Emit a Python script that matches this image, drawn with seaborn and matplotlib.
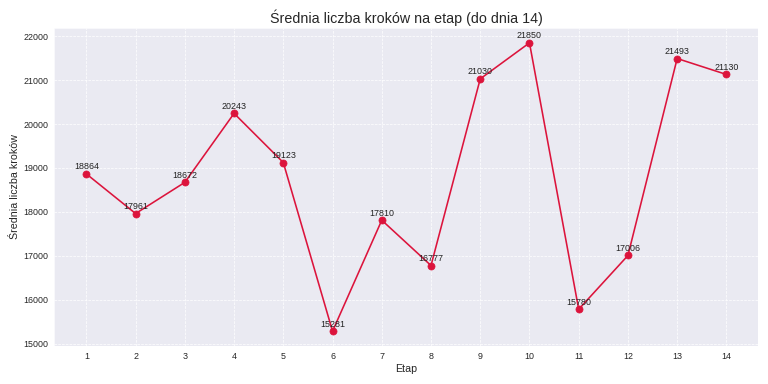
import matplotlib
matplotlib.use("Agg")
import matplotlib.pyplot as plt
import seaborn as sns
import pandas as pd

etapy = list(range(1, 15))
kroki = [18864, 17961, 18672, 20243, 19123, 15281, 17810, 16777,
         21030, 21850, 15780, 17006, 21493, 21130]

sns.set_style("darkgrid", {"grid.linestyle": "--"})
plt.rcParams['font.family'] = ['Liberation Sans', 'DejaVu Sans']

df = pd.DataFrame({"Etap": etapy, "Kroki": kroki})

fig, ax = plt.subplots(figsize=(12, 6), dpi=64)
sns.lineplot(data=df, x="Etap", y="Kroki", ax=ax, color="crimson",
             marker="o", markersize=8, markeredgecolor="crimson", linewidth=1.8)
for x, y in zip(etapy, kroki):
    ax.annotate(f"{y}", (x, y), textcoords="offset points", xytext=(0, 5),
                ha="center", fontsize=10, color="#222222")
ax.set_xticks(etapy)
ax.set_title("Średnia liczba kroków na etap (do dnia 14)", fontsize=16)
ax.set_xlabel("Etap", fontsize=12)
ax.set_ylabel("Średnia liczba kroków", fontsize=12)
ax.tick_params(labelsize=10)
fig.tight_layout()
fig.savefig("out.png", dpi=64)
